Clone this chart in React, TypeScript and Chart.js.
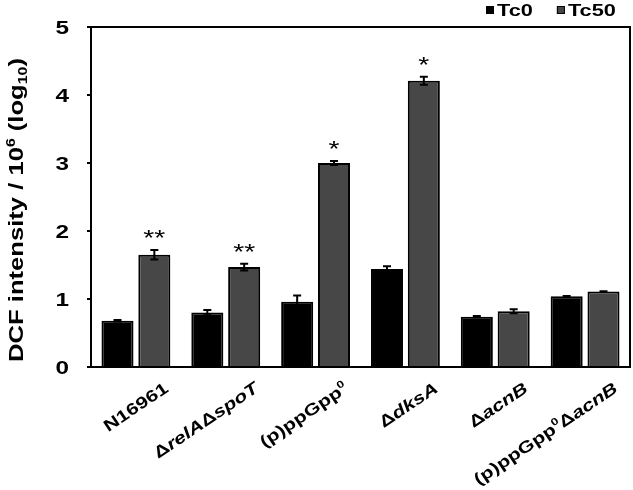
import React, { useEffect, useRef } from "react";
import { Chart, registerables } from "chart.js";

Chart.register(...registerables);

// ---- data ----
const categories = [
  "N16961",
  "Δ<i>relA</i>Δ<i>spoT</i>",
  "(p)ppGpp<sup>0</sup>",
  "Δ<i>dksA</i>",
  "Δ<i>acnB</i>",
  "(p)ppGpp<sup>0</sup>Δ<i>acnB</i>",
];
const seriesNames = ["Tc0", "Tc50"];
const tc0Values = [0.68, 0.8, 0.96, 1.44, 0.74, 1.04];
const tc0Errors = [0.01, 0.04, 0.09, 0.04, 0.01, 0.005];
const tc50Values = [1.65, 1.47, 3.0, 4.21, 0.82, 1.11];
const tc50Errors = [0.07, 0.05, 0.03, 0.06, 0.03, 0.005];
const tc0Stars = ["", "", "", "", "", ""];
const tc50Stars = ["**", "**", "*", "*", "", ""];
const yTickValues = [0, 1, 2, 3, 4, 5];
const yTitle = "DCF intensity / 10<sup>6</sup> (log<sub>10</sub>)";
const seriesColors = ["#000000", "#474747"];

const FONT = '"Liberation Sans", Arial, Helvetica, sans-serif';
const STRETCH = 1.28;

type Seg = { text: string; style: string };

function parseRich(s: string): Seg[] {
  const segs: Seg[] = [];
  const re = /<(i|sup|sub)>(.*?)<\/\1>|([^<]+)/g;
  let m: RegExpExecArray | null;
  while ((m = re.exec(s))) {
    if (m[3]) segs.push({ text: m[3], style: "" });
    else segs.push({ text: m[2], style: m[1] });
  }
  return segs;
}

function plain(s: string) {
  return s.replace(/<[^>]+>/g, "");
}

function segFont(seg: Seg, size: number, bold: boolean) {
  const sz = seg.style === "sup" || seg.style === "sub" ? size * 0.62 : size;
  return `${seg.style === "i" ? "italic " : ""}${bold ? "bold " : ""}${sz}px ${FONT}`;
}

function drawRich(
  ctx: CanvasRenderingContext2D,
  s: string,
  size: number,
  align: "left" | "right" | "center",
  bold = true
) {
  const segs = parseRich(s);
  ctx.textAlign = "left";
  ctx.textBaseline = "alphabetic";
  const widths = segs.map((seg) => {
    ctx.font = segFont(seg, size, bold);
    return ctx.measureText(seg.text).width;
  });
  const total = widths.reduce((a, b) => a + b, 0);
  let x = align === "right" ? -total : align === "center" ? -total / 2 : 0;
  segs.forEach((seg, i) => {
    ctx.font = segFont(seg, size, bold);
    const dy = seg.style === "sup" ? -size * 0.42 : seg.style === "sub" ? size * 0.18 : 0;
    ctx.fillText(seg.text, x, dy);
    x += widths[i];
  });
  return total;
}

const overlay = {
  id: "overlay",
  afterDatasetsDraw(chart: any) {
    const ctx: CanvasRenderingContext2D = chart.ctx;
    const ys = chart.scales.y;
    const area = chart.chartArea;
    ctx.save();
    ctx.strokeStyle = "#000";
    ctx.lineWidth = 2;
    ctx.beginPath();
    ctx.moveTo(area.left - 1, area.top);
    ctx.lineTo(area.right, area.top);
    ctx.lineTo(area.right, area.bottom);
    ctx.stroke();

    const vals = [tc0Values, tc50Values];
    const errs = [tc0Errors, tc50Errors];
    const stars = [tc0Stars, tc50Stars];
    chart.data.datasets.forEach((_ds: any, di: number) => {
      const meta = chart.getDatasetMeta(di);
      meta.data.forEach((el: any, i: number) => {
        const v = vals[di][i];
        const e = errs[di][i];
        const x = el.x;
        const yt = ys.getPixelForValue(v + e);
        const yb = ys.getPixelForValue(v - e);
        if (e > 0) {
          ctx.strokeStyle = "#000";
          ctx.lineWidth = 2;
          ctx.beginPath();
          ctx.moveTo(x, yt);
          ctx.lineTo(x, yb);
          ctx.moveTo(x - 4, yt);
          ctx.lineTo(x + 4, yt);
          ctx.moveTo(x - 4, yb);
          ctx.lineTo(x + 4, yb);
          ctx.stroke();
        }
        const s = stars[di][i];
        if (s) {
          ctx.save();
          ctx.fillStyle = "#000";
          ctx.translate(x, yt - 5);
          ctx.scale(STRETCH, 1);
          ctx.font = `22px ${FONT}`;
          ctx.textAlign = "center";
          ctx.textBaseline = "alphabetic";
          ctx.fillText(s, 0, 0);
          ctx.restore();
        }
      });
    });
    ctx.restore();
  },
  afterDraw(chart: any) {
    const ctx: CanvasRenderingContext2D = chart.ctx;
    const xs = chart.scales.x;
    const ys = chart.scales.y;
    ctx.save();
    ctx.fillStyle = "#000";

    // y tick labels
    yTickValues.forEach((v) => {
      const y = ys.getPixelForValue(v);
      ctx.save();
      ctx.translate(ys.right - 22, y + 0.36 * 19);
      ctx.scale(STRETCH, 1);
      drawRich(ctx, String(v), 19, "right");
      ctx.restore();
    });

    // x category labels (rotated)
    const ang = (-34 * Math.PI) / 180;
    const lsz = 16.5;
    categories.forEach((c, i) => {
      const cx = xs.getPixelForValue(i);
      ctx.save();
      ctx.translate(cx + 27, xs.top + 14);
      ctx.rotate(ang);
      ctx.translate(0, 0.72 * lsz);
      ctx.scale(STRETCH, 1);
      drawRich(ctx, c, lsz, "right");
      ctx.restore();
    });

    // y title
    ctx.save();
    ctx.translate(23, 210);
    ctx.rotate(-Math.PI / 2);
    ctx.scale(STRETCH, 1);
    drawRich(ctx, yTitle, 20, "center");
    ctx.restore();

    // legend
    let lx = 486;
    seriesNames.forEach((name, i) => {
      ctx.fillStyle = seriesColors[i];
      ctx.fillRect(lx, 6, 8, 8);
      ctx.strokeStyle = "#000";
      ctx.lineWidth = 1;
      ctx.strokeRect(lx + 0.5, 6.5, 7, 7);
      ctx.fillStyle = "#000";
      ctx.save();
      ctx.translate(lx + 11, 10 + 0.36 * 17);
      ctx.scale(STRETCH, 1);
      const w = drawRich(ctx, name, 17, "left");
      ctx.restore();
      lx = lx + 11 + w * STRETCH + 24;
    });
    ctx.restore();
  },
};

export default function App() {
  const ref = useRef<HTMLCanvasElement | null>(null);
  useEffect(() => {
    document.body.style.margin = "0";
    const canvas = ref.current;
    if (!canvas) return;
    const chart = new Chart(canvas, {
      type: "bar",
      data: {
        labels: categories.map(plain),
        datasets: [
          {
            label: seriesNames[0],
            data: tc0Values,
            backgroundColor: seriesColors[0],
            borderColor: "#000",
            borderWidth: 2,
          },
          {
            label: seriesNames[1],
            data: tc50Values,
            backgroundColor: seriesColors[1],
            borderColor: "#000",
            borderWidth: 2,
          },
        ],
      },
      options: {
        animation: false,
        responsive: false,
        devicePixelRatio: 1,
        datasets: {
          bar: { categoryPercentage: 0.82, barPercentage: 0.87 },
        },
        layout: { padding: { top: 27, right: 3, left: 0, bottom: 0 } },
        plugins: {
          legend: { display: false },
          tooltip: { enabled: false },
        },
        scales: {
          x: {
            grid: { display: false, drawTicks: false },
            ticks: { display: false },
            border: { display: true, color: "#000", width: 2 },
            afterFit: (scale: any) => {
              scale.height = 123;
            },
          },
          y: {
            min: 0,
            max: 5,
            ticks: { display: false, stepSize: 1 },
            grid: {
              drawOnChartArea: false,
              drawTicks: true,
              tickLength: 4,
              color: "#000",
              lineWidth: 2,
            },
            border: { display: true, color: "#000", width: 2 },
            afterFit: (scale: any) => {
              scale.width = 91;
            },
          },
        },
      },
      plugins: [overlay],
    });
    return () => chart.destroy();
  }, []);
  return (
    <div style={{ width: 633, height: 490 }}>
      <canvas ref={ref} width={633} height={490} />
    </div>
  );
}
